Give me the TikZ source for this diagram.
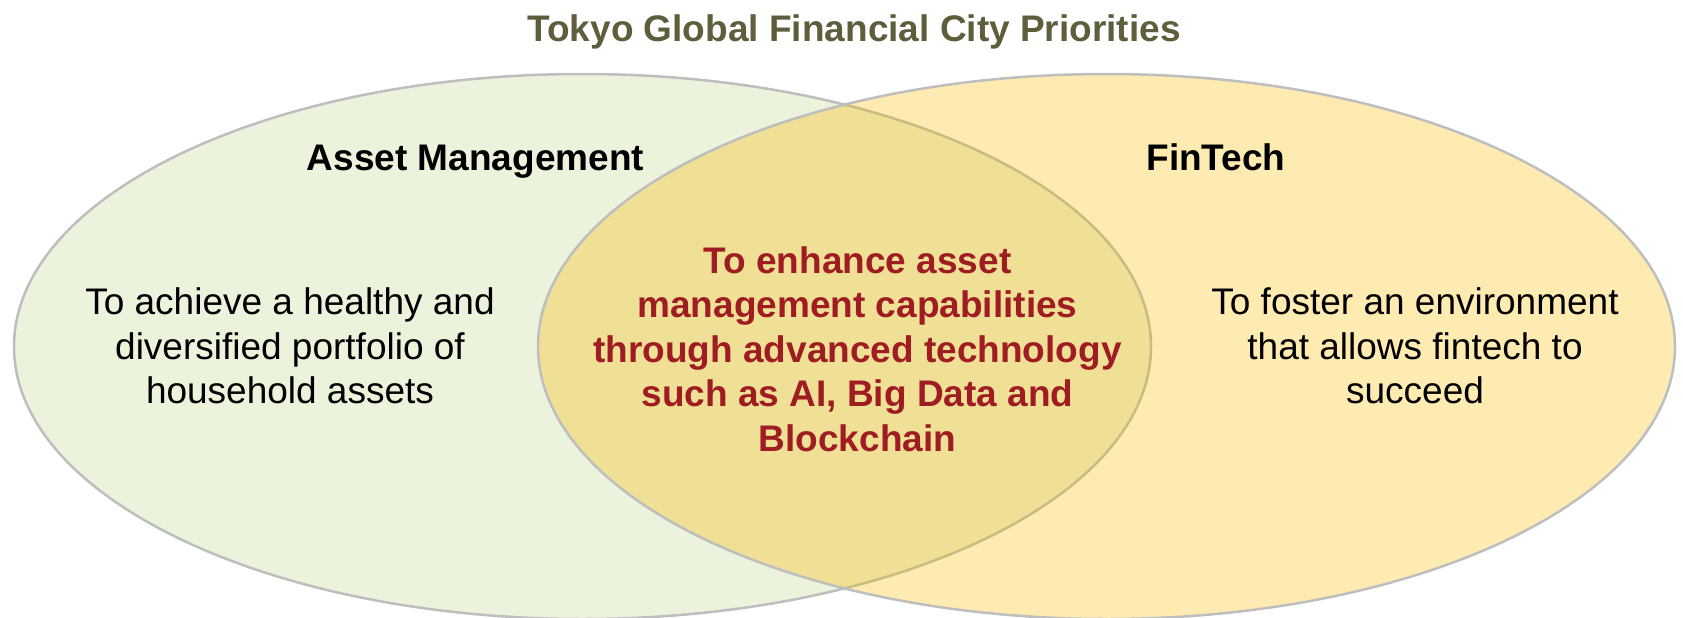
\documentclass[tikz,border=0pt]{standalone}
\usepackage{fontspec}
\setmainfont{Liberation Sans}
\definecolor{leftfill}{RGB}{236,243,220}
\definecolor{rightfill}{RGB}{254,235,178}
\definecolor{lensfill}{RGB}{240,224,150}
\definecolor{edgegray}{RGB}{190,190,190}
\definecolor{edgetan}{RGB}{200,188,128}
\definecolor{titlecol}{RGB}{94,94,60}
\definecolor{redtext}{RGB}{158,28,34}
\tikzset{
  bigtext/.style={font=\fontsize{37}{44.5}\selectfont, align=center, inner sep=0pt},
  boldtext/.style={bigtext, font=\fontsize{37}{44.5}\selectfont\bfseries},
  edge/.style={draw=edgegray, line width=2.5pt}
}
\begin{document}
\begin{tikzpicture}[x=1pt,y=-1pt]
\useasboundingbox (0,0) rectangle (1683,618);
\coordinate (Lc) at (582.5,346.5);
\coordinate (Rc) at (1106.5,346.5);
% left circle
\fill[leftfill] (Lc) ellipse [x radius=568.5, y radius=272.5];
\draw[edge] (Lc) ellipse [x radius=568.5, y radius=272.5];
% right circle
\fill[rightfill] (Rc) ellipse [x radius=568.5, y radius=272.5];
% lens
\begin{scope}
  \clip (Rc) ellipse [x radius=568.5, y radius=272.5];
  \fill[lensfill] (Lc) ellipse [x radius=568.5, y radius=272.5];
  \draw[draw=edgetan, line width=2.5pt] (Lc) ellipse [x radius=568.5, y radius=272.5];
\end{scope}
\draw[edge] (Rc) ellipse [x radius=568.5, y radius=272.5];
% texts
\node[boldtext, text=titlecol, anchor=base] (title) at (854,42) {Tokyo Global Financial City Priorities};
\node[boldtext, anchor=base] (am) at (475.5,170) {Asset Management};
\node[boldtext, anchor=base] (ft) at (1216,170) {FinTech};
\node[bigtext] (ltext) at (290,346) {To achieve a healthy and\\diversified portfolio of\\household assets};
\node[bigtext] (rtext) at (1415,346) {To foster an environment\\that allows fintech to\\succeed};
\node[boldtext, text=redtext] (ctext) at (857.5,349) {To enhance asset\\management capabilities\\through advanced technology\\such as AI, Big Data and\\Blockchain};
\end{tikzpicture}
\end{document}
